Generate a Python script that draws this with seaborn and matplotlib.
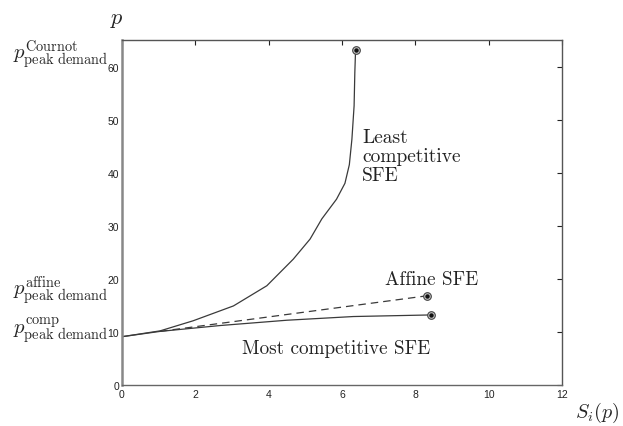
import numpy as np
import pandas as pd
import matplotlib
matplotlib.use("Agg")
import matplotlib.pyplot as plt
import matplotlib.transforms as mtransforms
import seaborn as sns

# curves: supply S_i(p) vs price p
least_s = [0.0, 1.04, 1.94, 3.04, 3.95, 4.67, 5.13, 5.45, 5.85, 6.08, 6.2, 6.27, 6.33, 6.35, 6.37]
least_p = [9.1, 10.2, 12.1, 14.9, 18.7, 23.7, 27.5, 31.3, 35.0, 38.0, 41.5, 46.3, 52.6, 58.9, 63.1]

affine_s = [1.04, 8.31]
affine_p = [10.1, 16.8]

comp_s = [0.0, 1.04, 2.67, 4.49, 6.31, 8.42]
comp_p = [9.1, 10.1, 11.2, 12.2, 12.9, 13.2]

x_ticks = [0, 2, 4, 6, 8, 10, 12]
y_ticks = [0, 10, 20, 30, 40, 50, 60]

sns.set_style("white")
plt.rcParams['mathtext.fontset'] = 'cm'
plt.rcParams['font.family'] = ['Liberation Sans', 'DejaVu Sans']

fig = plt.figure(figsize=(6.23, 4.27), dpi=100)
ax = fig.add_axes([122 / 623, 1 - 386 / 427, 440 / 623, 345 / 427])

line_col = '#3a3a3a'
least_df = pd.DataFrame({'s': least_s, 'p': least_p})
comp_df = pd.DataFrame({'s': comp_s, 'p': comp_p})
aff_df = pd.DataFrame({'s': affine_s, 'p': affine_p})

sns.lineplot(data=least_df, x='s', y='p', ax=ax, color=line_col, lw=0.9,
             estimator=None, sort=False)
sns.lineplot(data=comp_df, x='s', y='p', ax=ax, color=line_col, lw=0.9,
             estimator=None, sort=False)
sns.lineplot(data=aff_df, x='s', y='p', ax=ax, color=line_col, lw=0.9,
             estimator=None, sort=False, linestyle=(0, (6, 4)))

# end points: ring with dark centre
ends_s = [least_s[-1], affine_s[-1], comp_s[-1]]
ends_p = [least_p[-1], affine_p[-1], comp_p[-1]]
ax.plot(ends_s, ends_p, 'o', ms=5.5, mfc='#c8c8c8', mec='#444444', mew=0.8, zorder=5)
ax.plot(ends_s, ends_p, 'o', ms=2.2, color='#111111', zorder=6)

ax.set_xlim(0, 12)
ax.set_ylim(0, 65)
ax.set_xticks(x_ticks)
ax.set_yticks(y_ticks)
ax.set_xticklabels([str(t) for t in x_ticks])
ax.set_yticklabels([str(t) for t in y_ticks])
ax.tick_params(direction='in', length=3.5, width=0.8, labelsize=7.5, color='#222222',
               labelcolor='#222222', top=True, right=True, labeltop=False,
               labelright=False, pad=2)
ax.tick_params(axis='x', pad=3)
ax.set_xlabel('')
ax.set_ylabel('')
for side, sp in ax.spines.items():
    sp.set_visible(True)
    sp.set_color('#555555')
    sp.set_linewidth(1.0)
ax.spines['left'].set_color('#888888')
ax.spines['left'].set_linewidth(1.8)
ax.spines['bottom'].set_color('#666666')

serif = 'cmr10'
ax.text(6.55, 48.4, 'Least\ncompetitive\nSFE', fontfamily=serif, fontsize=14,
        ha='left', va='top', linespacing=1.08, color='#222222')
ax.text(8.45, 19.1, 'Affine SFE', fontfamily=serif, fontsize=13.8,
        ha='center', va='baseline', color='#222222')
ax.text(3.27, 6.0, 'Most competitive SFE', fontfamily=serif, fontsize=13.8,
        ha='left', va='baseline', color='#222222')

trans = mtransforms.blended_transform_factory(ax.transAxes, ax.transData)
ax.text(-0.03, 62.5, r'$p^{\mathrm{Cournot}}_{\mathrm{peak\ demand}}$', transform=trans,
        ha='right', va='center', fontsize=14.8)
ax.text(-0.03, 18.0, r'$p^{\mathrm{affine}}_{\mathrm{peak\ demand}}$', transform=trans,
        ha='right', va='center', fontsize=14.8)
ax.text(-0.03, 10.4, r'$p^{\mathrm{comp}}_{\mathrm{peak\ demand}}$', transform=trans,
        ha='right', va='center', fontsize=14.8)

fig.text(117 / 623, 1 - 20 / 427, r'$p$', ha='center', va='center', fontsize=16)
fig.text(619 / 623, 1 - 413 / 427, r'$S_i(p)$', ha='right', va='center', fontsize=14.5)

fig.savefig('out.png', dpi=100)
